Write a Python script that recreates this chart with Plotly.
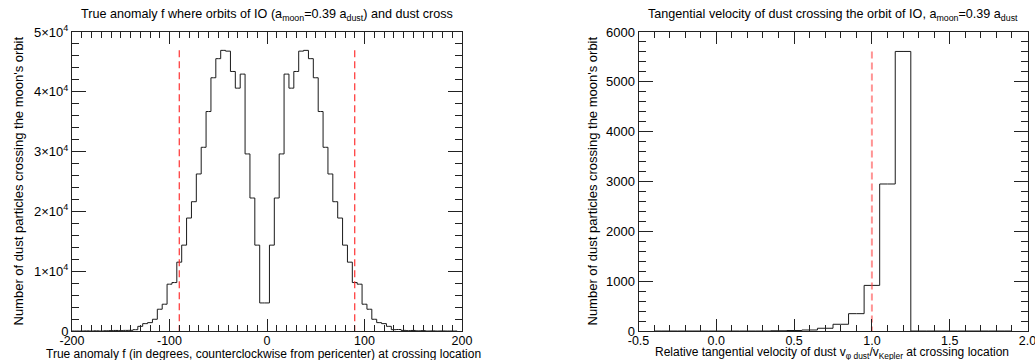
import plotly.graph_objects as go

# ---------------- data ----------------
# Left panel: true anomaly histogram (bin centres, degrees) and counts
f_bins = [-200, -195, -190, -185, -180, -175, -170, -165, -160, -155,
          -150, -145, -140, -135, -130, -125, -120, -115, -110, -105,
          -100, -95, -90, -85, -80, -75, -70, -65, -60, -55,
          -50, -45, -40, -35, -30, -25, -20, -15, -10, -5,
          0, 5, 10, 15, 20, 25, 30, 35, 40, 45,
          50, 55, 60, 65, 70, 75, 80, 85, 90, 95,
          100, 105, 110, 115, 120, 125, 130, 135, 140, 145,
          150, 155, 160, 165, 170, 175, 180, 185, 190, 195]
f_counts = [0, 0, 0, 20, 0, 30, 0, 40, 60, 90,
            60, 100, 110, 220, 780, 1230, 1400, 1960, 3640, 4480,
            7830, 8100, 11510, 14360, 18890, 21620, 26260, 30720, 36700, 42350,
            45540, 46930, 46800, 43400, 40610, 42960, 29610, 22240, 14360, 4690,
            4690, 14360, 22240, 29610, 42960, 40610, 43400, 46800, 46930, 45540,
            42350, 36700, 30720, 26260, 21620, 18890, 14360, 11510, 8100, 7830,
            4480, 3640, 1960, 1400, 1230, 780, 220, 250, 100, 60,
            90, 30, 60, 0, 20, 0, 10, 0, 0, 0]
f_marks = [-90, 90]

# Right panel: relative tangential velocity histogram
v_bins = [-0.4, -0.3, -0.2, -0.1, 0.0, 0.1, 0.2, 0.3, 0.4, 0.5,
          0.6, 0.7, 0.8, 0.9, 1.0, 1.1, 1.2, 1.3, 1.4, 1.5,
          1.6, 1.7, 1.8, 1.9]
v_counts = [0, 0, 0, 0, 0, 0, 0, 0, 5, 10,
            20, 55, 135, 348, 915, 2950, 5610, 0, 0, 0,
            0, 0, 0, 0]
v_marks = [1.0]

f_xticks = [-200, -100, 0, 100, 200]
f_xticktext = ["-200", "-100", "0", "100", "200"]
f_yticks = [0, 10000, 20000, 30000, 40000, 50000]
f_yticktext = ["0", "1×10<sup>4</sup>", "2×10<sup>4</sup>", "3×10<sup>4</sup>",
               "4×10<sup>4</sup>", "5×10<sup>4</sup>"]
v_xticks = [-0.5, 0.0, 0.5, 1.0, 1.5, 2.0]
v_xticktext = ["-0.5", "0.0", "0.5", "1.0", "1.5", "2.0"]
v_yticks = [0, 1000, 2000, 3000, 4000, 5000, 6000]
v_yticktext = ["0", "1000", "2000", "3000", "4000", "5000", "6000"]

# ---------------- layout helpers ----------------
W, H = 1035, 360
FONT = "Liberation Sans, Arial, Helvetica, sans-serif"


def px(x):
    return x / W


def py(y):
    return 1 - y / H


L0, L1 = 72, 462
R0, R1 = 638.5, 1027.5
YT, YB = 32, 331

fig = go.Figure()

hist_line = dict(color="#1a1a1a", width=1)
fig.add_trace(go.Scatter(x=f_bins, y=f_counts, mode="lines", line=hist_line,
                         line_shape="hvh", xaxis="x", yaxis="y",
                         showlegend=False, hoverinfo="skip"))
fig.add_trace(go.Scatter(x=v_bins, y=v_counts, mode="lines", line=hist_line,
                         line_shape="hvh", xaxis="x2", yaxis="y2",
                         showlegend=False, hoverinfo="skip"))

fmax = max(f_counts)
for m in f_marks:
    fig.add_trace(go.Scatter(x=[m, m], y=[fmax, 0], mode="lines",
                             line=dict(color="#ff2020", width=1.1, dash="7px,4px"),
                             xaxis="x", yaxis="y", showlegend=False, hoverinfo="skip"))
vmax = max(v_counts)
for m in v_marks:
    fig.add_trace(go.Scatter(x=[m, m], y=[vmax, 0], mode="lines",
                             line=dict(color="rgba(255,60,60,0.55)", width=2, dash="7px,4px"),
                             xaxis="x2", yaxis="y2", showlegend=False, hoverinfo="skip"))


def axis_common(fs):
    return dict(showline=True, linecolor="#222", linewidth=1, mirror="ticks",
                ticks="inside", tickcolor="#222", tickwidth=1,
                showgrid=False, zeroline=False, automargin=False,
                ticklabeloverflow="allow",
                tickfont=dict(family=FONT, size=fs, color="black"))


xa = axis_common(12.5)
xa.update(domain=[px(L0), px(L1)], range=[-200, 200], anchor="y",
          tickvals=f_xticks, ticktext=f_xticktext, ticklen=12, ticklabelstandoff=-2,
          minor=dict(dtick=10, tick0=0, ticklen=6, ticks="inside", tickcolor="#222", showgrid=False))
ya = axis_common(13)
ya.update(domain=[py(YB), py(YT)], range=[0, 50000], anchor="x",
          tickvals=f_yticks, ticktext=f_yticktext, ticklen=14,
          minor=dict(dtick=2000, tick0=0, ticklen=7, ticks="inside", tickcolor="#222", showgrid=False))
xa2 = axis_common(12.5)
xa2.update(domain=[px(R0), px(R1)], range=[-0.5, 2.0], anchor="y2",
           tickvals=v_xticks, ticktext=v_xticktext, ticklen=12, ticklabelstandoff=-2,
           minor=dict(dtick=0.1, tick0=0, ticklen=6, ticks="inside", tickcolor="#222", showgrid=False))
ya2 = axis_common(13)
ya2.update(domain=[py(YB), py(YT)], range=[0, 6000], anchor="x2",
           tickvals=v_yticks, ticktext=v_yticktext, ticklen=14,
           minor=dict(dtick=200, tick0=0, ticklen=7, ticks="inside", tickcolor="#222", showgrid=False))

afont = dict(family=FONT, size=12, color="black")
tfont = dict(family=FONT, size=12.6, color="black")
yfont = dict(family=FONT, size=13, color="black")
annotations = [
    dict(text="True anomaly f where orbits of IO (a<sub>moon</sub>=0.39 a<sub>dust</sub>) and dust cross",
         x=px((L0 + L1) / 2), y=py(15), font=tfont),
    dict(text="Tangential velocity of dust crossing the orbit of IO, a<sub>moon</sub>=0.39 a<sub>dust</sub>",
         x=px((R0 + R1) / 2), y=py(15), font=tfont),
    dict(text="True anomaly f (in degrees, counterclockwise from pericenter) at crossing location",
         x=px(263), y=py(353.5), font=afont),
    dict(text="Relative tangential velocity of dust v<sub>φ dust</sub>/v<sub>Kepler</sub> at crossing location",
         x=px(832), y=py(353), font=afont),
    dict(text="Number of dust particles crossing the moon's orbit",
         x=px(18), y=py((YT + YB) / 2), textangle=-90, font=yfont),
    dict(text="Number of dust particles crossing the moon's orbit",
         x=px(592), y=py((YT + YB) / 2), textangle=-90, font=yfont),
]
for a in annotations:
    a.update(xref="paper", yref="paper", xanchor="center", yanchor="middle",
             showarrow=False)

fig.update_layout(
    width=W, height=H,
    margin=dict(l=0, r=0, t=0, b=0, autoexpand=False),
    paper_bgcolor="white", plot_bgcolor="white",
    xaxis=xa, yaxis=ya, xaxis2=xa2, yaxis2=ya2,
    annotations=annotations,
    font=dict(family=FONT, size=12, color="black"),
)

fig.write_html("out.html")
